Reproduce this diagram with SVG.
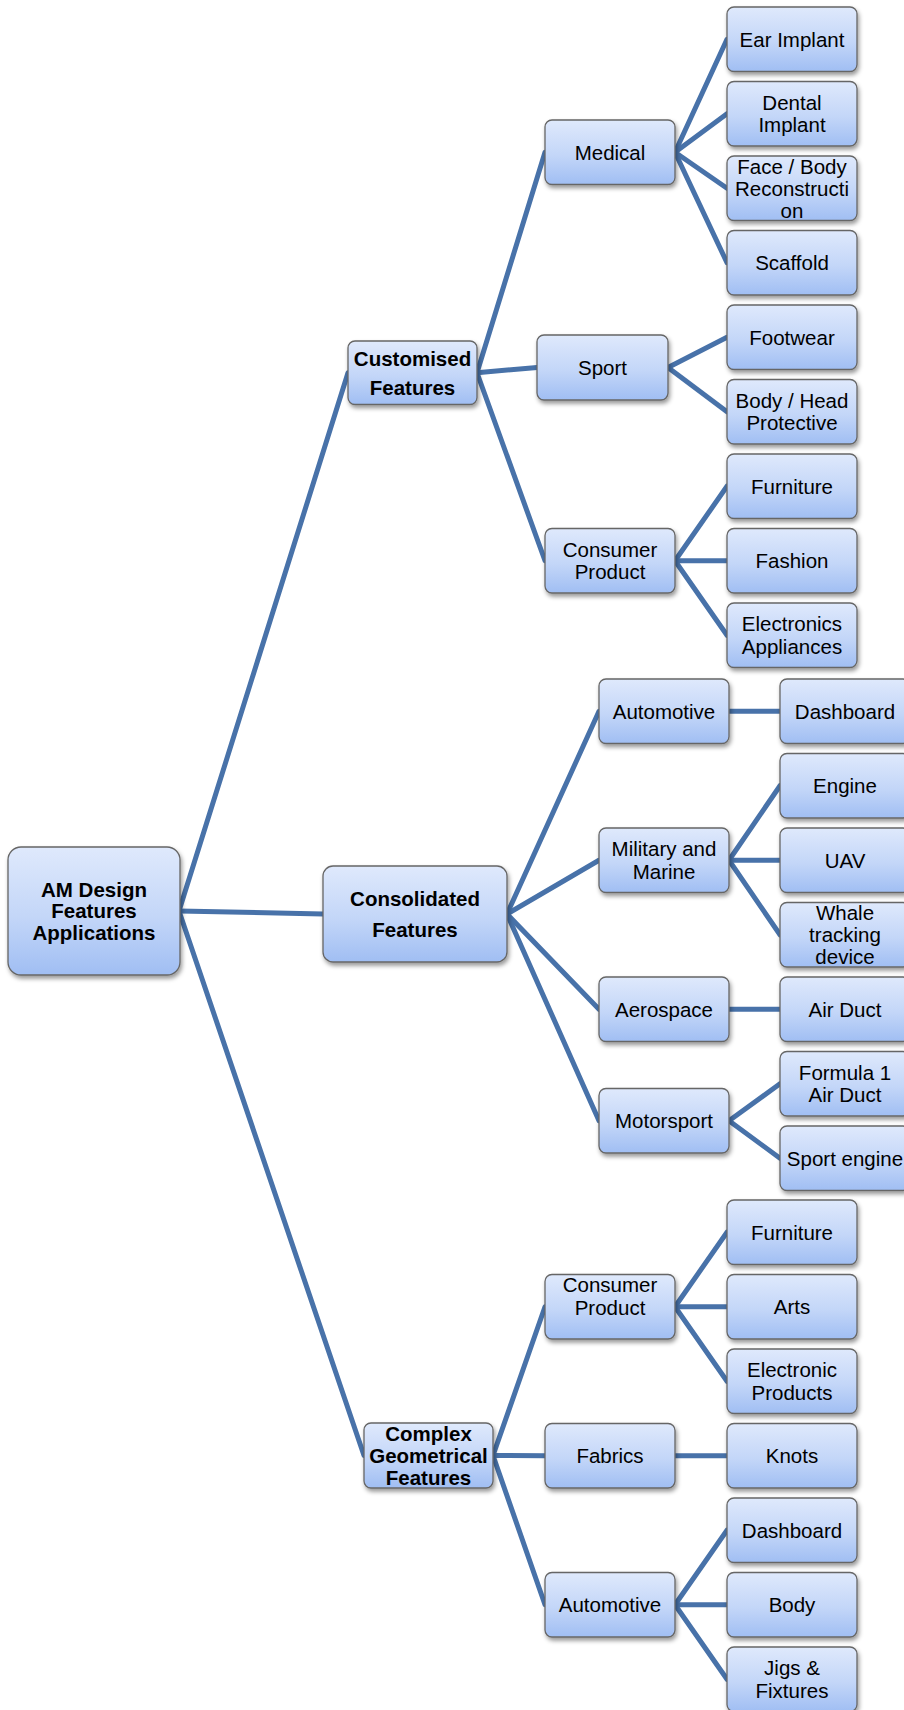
<svg xmlns="http://www.w3.org/2000/svg" width="904" height="1710" viewBox="0 0 904 1710">
<defs>
<linearGradient id="g" x1="0" y1="0" x2="0" y2="1">
<stop offset="0" stop-color="#dfe9fc"/>
<stop offset="0.55" stop-color="#c3d6f8"/>
<stop offset="1" stop-color="#a0bef3"/>
</linearGradient>
<filter id="sh" x="-10%" y="-10%" width="130%" height="140%">
<feDropShadow dx="1.5" dy="3" stdDeviation="2" flood-color="#000" flood-opacity="0.4"/>
</filter>
<style>
rect.b{fill:url(#g);stroke:#666;stroke-width:1.3;filter:url(#sh)}
text{font-family:"Liberation Sans",Arial,sans-serif;font-size:20.5px;fill:#000;text-anchor:middle}
text.bd{font-weight:bold}
#connectors line{stroke:#4872a9;stroke-width:5;stroke-linecap:round}
</style>
</defs>
<rect width="904" height="1710" fill="#fff"/>
<g id="connectors">
<line x1="179" y1="911" x2="348" y2="372.75"/>
<line x1="179" y1="911" x2="323" y2="914"/>
<line x1="179" y1="911" x2="364" y2="1455.5"/>
<line x1="477" y1="372.75" x2="545" y2="152.25"/>
<line x1="477" y1="372.75" x2="537" y2="367.5"/>
<line x1="477" y1="372.75" x2="545" y2="560.75"/>
<line x1="675" y1="152.25" x2="727" y2="39.25"/>
<line x1="675" y1="152.25" x2="727" y2="113.75"/>
<line x1="675" y1="152.25" x2="727" y2="188.25"/>
<line x1="675" y1="152.25" x2="727" y2="262.75"/>
<line x1="668" y1="367.5" x2="727" y2="337.25"/>
<line x1="668" y1="367.5" x2="727" y2="411.75"/>
<line x1="675" y1="560.75" x2="727" y2="486.25"/>
<line x1="675" y1="560.75" x2="727" y2="560.75"/>
<line x1="675" y1="560.75" x2="727" y2="635.25"/>
<line x1="507" y1="914" x2="599" y2="711.25"/>
<line x1="507" y1="914" x2="599" y2="860.25"/>
<line x1="507" y1="914" x2="599" y2="1009.25"/>
<line x1="507" y1="914" x2="599" y2="1120.75"/>
<line x1="729" y1="711.25" x2="780" y2="711.25"/>
<line x1="729" y1="860.25" x2="780" y2="785.75"/>
<line x1="729" y1="860.25" x2="780" y2="860.25"/>
<line x1="729" y1="860.25" x2="780" y2="934.75"/>
<line x1="729" y1="1009.25" x2="780" y2="1009.25"/>
<line x1="729" y1="1120.75" x2="780" y2="1083.75"/>
<line x1="729" y1="1120.75" x2="780" y2="1158.25"/>
<line x1="493" y1="1455.5" x2="545" y2="1306.75"/>
<line x1="493" y1="1455.5" x2="545" y2="1455.75"/>
<line x1="493" y1="1455.5" x2="545" y2="1604.75"/>
<line x1="675" y1="1306.75" x2="727" y2="1232.25"/>
<line x1="675" y1="1306.75" x2="727" y2="1306.75"/>
<line x1="675" y1="1306.75" x2="727" y2="1381.25"/>
<line x1="675" y1="1455.75" x2="727" y2="1455.75"/>
<line x1="675" y1="1604.75" x2="727" y2="1530.25"/>
<line x1="675" y1="1604.75" x2="727" y2="1604.75"/>
<line x1="675" y1="1604.75" x2="727" y2="1679.25"/>
</g>
<g id="root"><rect class="b" x="8" y="847" width="172" height="128" rx="13"/><text class="bd" x="94" y="896.8">AM Design</text><text class="bd" x="94" y="918.3">Features</text><text class="bd" x="94" y="939.8">Applications</text></g>
<g id="customised"><rect class="b" x="348" y="341" width="129" height="63.5" rx="7"/><text class="bd" x="412.5" y="365.5">Customised</text><text class="bd" x="412.5" y="394.5">Features</text></g>
<g id="consolidated"><rect class="b" x="323" y="866" width="184" height="96" rx="10"/><text class="bd" x="415" y="905.8">Consolidated</text><text class="bd" x="415" y="936.8">Features</text></g>
<g id="complex"><rect class="b" x="364" y="1423" width="129" height="65" rx="7"/><text class="bd" x="428.5" y="1440.8">Complex</text><text class="bd" x="428.5" y="1462.8">Geometrical</text><text class="bd" x="428.5" y="1484.8">Features</text></g>
<g id="medical"><rect class="b" x="545" y="120" width="130" height="64.5" rx="7"/><text x="610" y="159.5">Medical</text></g>
<g id="sport"><rect class="b" x="537" y="335" width="131" height="65" rx="7"/><text x="602.5" y="374.8">Sport</text></g>
<g id="consumer1"><rect class="b" x="545" y="528.5" width="130" height="64.5" rx="7"/><text x="610" y="556.8">Consumer</text><text x="610" y="579.3">Product</text></g>
<g id="ear"><rect class="b" x="727" y="7" width="130" height="64.5" rx="7"/><text x="792" y="46.5">Ear Implant</text></g>
<g id="dental"><rect class="b" x="727" y="81.5" width="130" height="64.5" rx="7"/><text x="792" y="109.8">Dental</text><text x="792" y="132.3">Implant</text></g>
<g id="face"><rect class="b" x="727" y="156" width="130" height="64.5" rx="7"/><text x="792" y="173.5">Face / Body</text><text x="792" y="195.5">Reconstructi</text><text x="792" y="217.5">on</text></g>
<g id="scaffold"><rect class="b" x="727" y="230.5" width="130" height="64.5" rx="7"/><text x="792" y="270">Scaffold</text></g>
<g id="footwear"><rect class="b" x="727" y="305" width="130" height="64.5" rx="7"/><text x="792" y="344.5">Footwear</text></g>
<g id="bodyhead"><rect class="b" x="727" y="379.5" width="130" height="64.5" rx="7"/><text x="792" y="407.8">Body / Head</text><text x="792" y="430.3">Protective</text></g>
<g id="furniture1"><rect class="b" x="727" y="454" width="130" height="64.5" rx="7"/><text x="792" y="493.5">Furniture</text></g>
<g id="fashion"><rect class="b" x="727" y="528.5" width="130" height="64.5" rx="7"/><text x="792" y="568">Fashion</text></g>
<g id="electronics"><rect class="b" x="727" y="603" width="130" height="64.5" rx="7"/><text x="792" y="631.3">Electronics</text><text x="792" y="653.8">Appliances</text></g>
<g id="automotive1"><rect class="b" x="599" y="679" width="130" height="64.5" rx="7"/><text x="664" y="718.5">Automotive</text></g>
<g id="military"><rect class="b" x="599" y="828" width="130" height="64.5" rx="7"/><text x="664" y="856.3">Military and</text><text x="664" y="878.8">Marine</text></g>
<g id="aerospace"><rect class="b" x="599" y="977" width="130" height="64.5" rx="7"/><text x="664" y="1016.5">Aerospace</text></g>
<g id="motorsport"><rect class="b" x="599" y="1088.5" width="130" height="64.5" rx="7"/><text x="664" y="1128">Motorsport</text></g>
<g id="dashboard1"><rect class="b" x="780" y="679" width="130" height="64.5" rx="7"/><text x="845" y="718.5">Dashboard</text></g>
<g id="engine"><rect class="b" x="780" y="753.5" width="130" height="64.5" rx="7"/><text x="845" y="793">Engine</text></g>
<g id="uav"><rect class="b" x="780" y="828" width="130" height="64.5" rx="7"/><text x="845" y="867.5">UAV</text></g>
<g id="whale"><rect class="b" x="780" y="902.5" width="130" height="64.5" rx="7"/><text x="845" y="920">Whale</text><text x="845" y="942">tracking</text><text x="845" y="964">device</text></g>
<g id="airduct"><rect class="b" x="780" y="977" width="130" height="64.5" rx="7"/><text x="845" y="1016.5">Air Duct</text></g>
<g id="formula"><rect class="b" x="780" y="1051.5" width="130" height="64.5" rx="7"/><text x="845" y="1079.8">Formula 1</text><text x="845" y="1102.3">Air Duct</text></g>
<g id="sportengine"><rect class="b" x="780" y="1126" width="130" height="64.5" rx="7"/><text x="845" y="1165.5">Sport engine</text></g>
<g id="consumer2"><rect class="b" x="545" y="1274.5" width="130" height="64.5" rx="7"/><text x="610" y="1292">Consumer</text><text x="610" y="1314.5">Product</text></g>
<g id="fabrics"><rect class="b" x="545" y="1423.5" width="130" height="64.5" rx="7"/><text x="610" y="1463">Fabrics</text></g>
<g id="automotive2"><rect class="b" x="545" y="1572.5" width="130" height="64.5" rx="7"/><text x="610" y="1612">Automotive</text></g>
<g id="furniture2"><rect class="b" x="727" y="1200" width="130" height="64.5" rx="7"/><text x="792" y="1239.5">Furniture</text></g>
<g id="arts"><rect class="b" x="727" y="1274.5" width="130" height="64.5" rx="7"/><text x="792" y="1314">Arts</text></g>
<g id="electronic"><rect class="b" x="727" y="1349" width="130" height="64.5" rx="7"/><text x="792" y="1377.3">Electronic</text><text x="792" y="1399.8">Products</text></g>
<g id="knots"><rect class="b" x="727" y="1423.5" width="130" height="64.5" rx="7"/><text x="792" y="1463">Knots</text></g>
<g id="dashboard2"><rect class="b" x="727" y="1498" width="130" height="64.5" rx="7"/><text x="792" y="1537.5">Dashboard</text></g>
<g id="body"><rect class="b" x="727" y="1572.5" width="130" height="64.5" rx="7"/><text x="792" y="1612">Body</text></g>
<g id="jigs"><rect class="b" x="727" y="1647" width="130" height="64.5" rx="7"/><text x="792" y="1675.3">Jigs &amp;</text><text x="792" y="1697.8">Fixtures</text></g>
</svg>
